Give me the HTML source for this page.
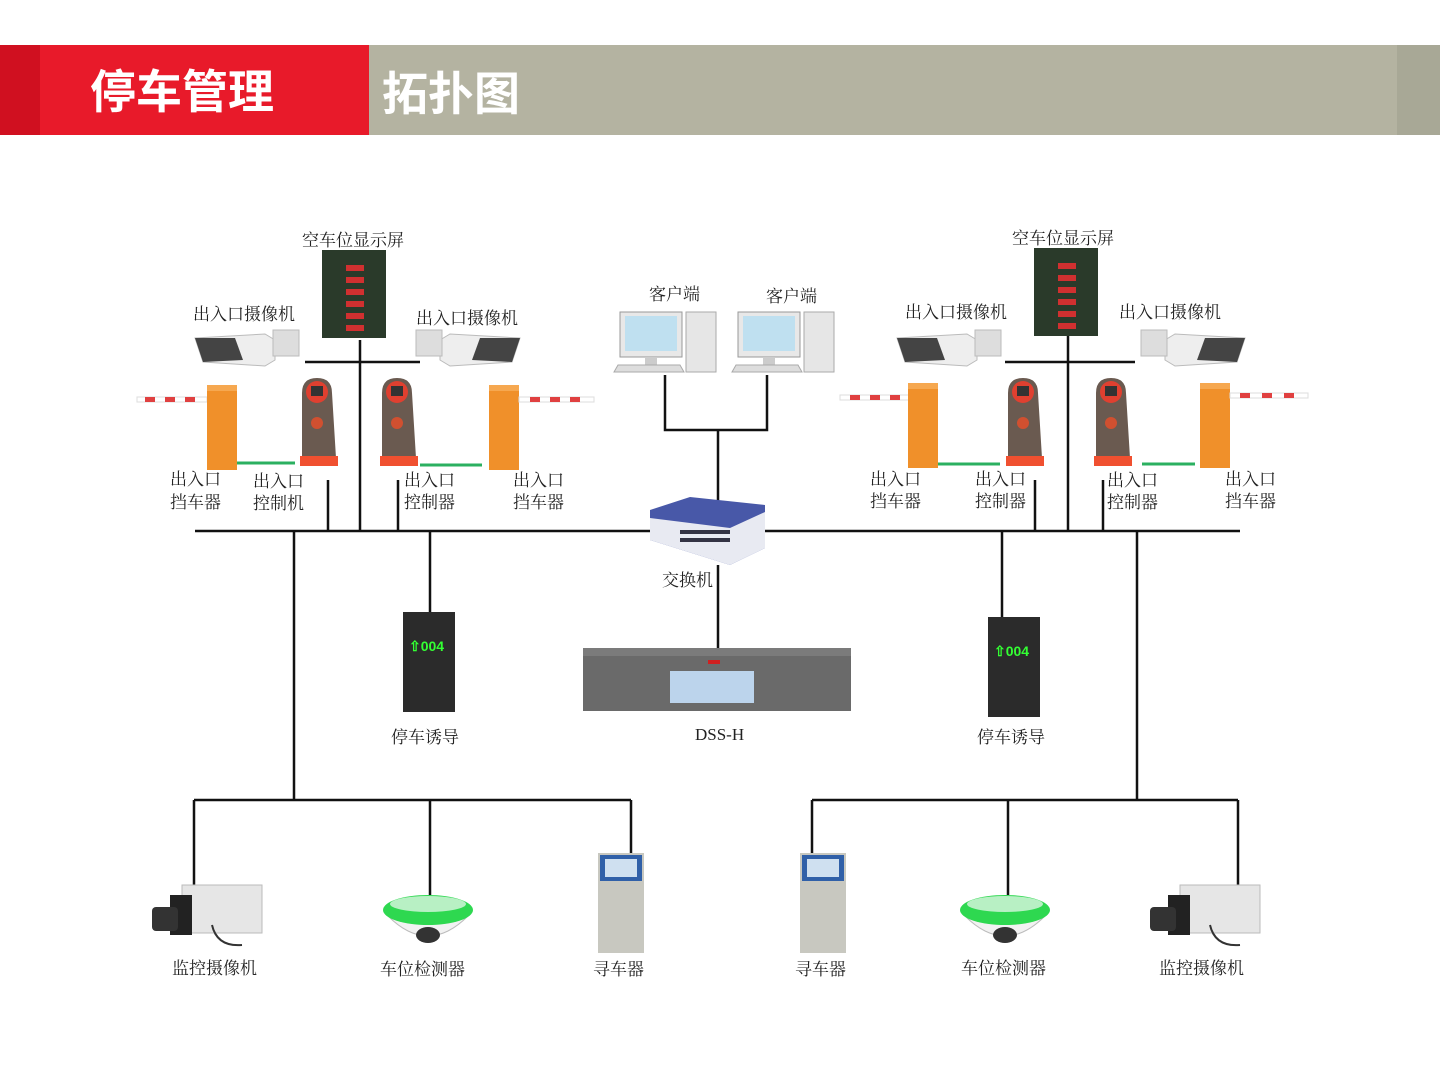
<!DOCTYPE html>
<html><head><meta charset="utf-8"><style>
html,body{margin:0;padding:0;background:#fff;}
svg{display:block;font-family:"Liberation Serif","Noto Serif CJK SC","Noto Sans CJK SC",serif;}
.t{font-size:17px;fill:#222;}
</style></head><body>
<svg width="1440" height="1080" viewBox="0 0 1440 1080" xmlns="http://www.w3.org/2000/svg">
<defs>
<g id="bcam">
<path d="M0,8 L70,4 L80,10 L80,30 L70,36 L8,32 Z" fill="#eee" stroke="#bbb"/>
<path d="M0,8 L40,8 L48,30 L8,32 Z" fill="#444"/>
<rect x="78" y="0" width="26" height="26" fill="#ddd" stroke="#bbb"/>
</g>
<g id="gate">
<rect x="0" y="0" width="30" height="85" fill="#f0902a"/>
<rect x="0" y="0" width="30" height="6" fill="#f6a850"/>
</g>
<g id="ctrl">
<path d="M0,15 Q0,0 15,0 Q30,0 30,15 L34,80 L0,80 Z" fill="#6a5a50"/>
<circle cx="15" cy="14" r="11" fill="#e04030"/>
<rect x="9" y="8" width="12" height="10" fill="#333"/>
<circle cx="15" cy="45" r="6" fill="#d05030"/>
<rect x="-2" y="78" width="38" height="10" fill="#f05030"/>
</g>
<g id="disp">
<rect x="0" y="0" width="64" height="88" fill="#2a3a2a"/>
<g fill="#d03030"><rect x="24" y="15" width="18" height="6"/><rect x="24" y="27" width="18" height="6"/><rect x="24" y="39" width="18" height="6"/><rect x="24" y="51" width="18" height="6"/><rect x="24" y="63" width="18" height="6"/><rect x="24" y="75" width="18" height="6"/></g>
</g>
<g id="pc">
<rect x="0" y="0" width="62" height="45" fill="#e8e8e8" stroke="#999"/>
<rect x="5" y="4" width="52" height="35" fill="#bfe0f0"/>
<rect x="25" y="45" width="12" height="8" fill="#ccc"/>
<path d="M-2,53 L60,53 L64,60 L-6,60 Z" fill="#ddd" stroke="#aaa"/>
<rect x="66" y="0" width="30" height="60" fill="#e6e6e6" stroke="#aaa"/>
</g>
<g id="guide">
<rect x="0" y="0" width="52" height="100" fill="#2b2b2b"/>
<text x="6" y="39" font-size="14" fill="#3f3" font-family="Liberation Sans,sans-serif" font-weight="bold">⇧004</text>
</g>
<g id="kiosk">
<rect x="0" y="0" width="46" height="100" fill="#c8c8c0"/>
<rect x="2" y="2" width="42" height="26" fill="#3060a8"/>
<rect x="7" y="6" width="32" height="18" fill="#cfe0f0"/>
</g>
<g id="det">
<path d="M5,26 Q45,66 85,26 Z" fill="#f2f2f2" stroke="#bbb"/>
<ellipse cx="45" cy="20" rx="45" ry="15" fill="#2ed850"/>
<ellipse cx="45" cy="14" rx="38" ry="8" fill="#b8f0c4"/>
<ellipse cx="45" cy="45" rx="12" ry="8" fill="#333"/>
</g>
<g id="boxcam">
<rect x="30" y="0" width="80" height="48" fill="#e6e6e6" stroke="#bbb"/>
<rect x="18" y="10" width="22" height="40" fill="#222"/>
<rect x="0" y="22" width="26" height="24" rx="4" fill="#333"/>
<path d="M60,40 Q65,62 90,60" fill="none" stroke="#333" stroke-width="2"/>
</g>
</defs>

<rect x="0" y="45" width="369" height="90" fill="#e81a2a"/>
<rect x="0" y="45" width="40" height="90" fill="#d01020"/>
<rect x="369" y="45" width="1028" height="90" fill="#b4b3a1"/>
<rect x="1397" y="45" width="43" height="90" fill="#a8a896"/>
<text x="90" y="108" font-size="46" font-weight="bold" fill="#fff" font-family="Liberation Sans,'Noto Sans CJK SC',sans-serif">停车管理</text>
<text x="382" y="110" font-size="46" font-weight="bold" fill="#fff" font-family="Liberation Sans,'Noto Sans CJK SC',sans-serif">拓扑图</text>

<g stroke="#111" stroke-width="2.5" fill="none">
<path d="M195,531 H650 M765,531 H1240"/>
<path d="M294,531 V800 M430,531 V612 M360,340 V531 M328,480 V531 M398,480 V531 M305,362 H420"/>
<path d="M1068,335 V531 M1005,362 H1135 M1035,480 V531 M1103,480 V531 M1002,531 V617 M1137,531 V800"/>
<path d="M194,800 H631 M194,800 V885 M430,800 V895 M631,800 V855"/>
<path d="M812,800 H1238 M812,800 V855 M1008,800 V895 M1238,800 V885"/>
<path d="M665,375 V430 H767 V375 M718,430 V505 M718,565 V648"/>
</g>
<g stroke="#2bb060" stroke-width="3"><path d="M232,463 H295 M420,465 H482 M935,464 H1000 M1142,464 H1195"/></g>

<use href="#disp" x="322" y="250"/>
<use href="#bcam" x="195" y="330"/>
<use href="#bcam" transform="translate(520,330) scale(-1,1)"/>
<rect x="137" y="397" width="70" height="5" fill="#fff" stroke="#ddd"/><g fill="#e04040"><rect x="145" y="397" width="10" height="5"/><rect x="165" y="397" width="10" height="5"/><rect x="185" y="397" width="10" height="5"/></g>
<use href="#gate" x="207" y="385"/>
<use href="#ctrl" x="302" y="378"/>
<use href="#ctrl" x="382" y="378"/>
<use href="#gate" x="489" y="385"/>
<rect x="519" y="397" width="75" height="5" fill="#fff" stroke="#ddd"/><g fill="#e04040"><rect x="530" y="397" width="10" height="5"/><rect x="550" y="397" width="10" height="5"/><rect x="570" y="397" width="10" height="5"/></g>

<use href="#disp" x="1034" y="248"/>
<use href="#bcam" x="897" y="330"/>
<use href="#bcam" transform="translate(1245,330) scale(-1,1)"/>
<rect x="840" y="395" width="70" height="5" fill="#fff" stroke="#ddd"/><g fill="#e04040"><rect x="850" y="395" width="10" height="5"/><rect x="870" y="395" width="10" height="5"/><rect x="890" y="395" width="10" height="5"/></g>
<use href="#gate" x="908" y="383"/>
<use href="#ctrl" x="1008" y="378"/>
<use href="#ctrl" x="1096" y="378"/>
<use href="#gate" x="1200" y="383"/>
<rect x="1230" y="393" width="78" height="5" fill="#fff" stroke="#ddd"/><g fill="#e04040"><rect x="1240" y="393" width="10" height="5"/><rect x="1262" y="393" width="10" height="5"/><rect x="1284" y="393" width="10" height="5"/></g>

<use href="#pc" x="620" y="312"/>
<use href="#pc" x="738" y="312"/>
<path d="M650,510 L690,497 L765,505 L765,548 L730,565 L650,540 Z" fill="#4858a8"/>
<path d="M650,518 L730,528 L765,512 L765,548 L730,565 L650,540 Z" fill="#e8eaf2"/>
<g fill="#334"><rect x="680" y="530" width="50" height="4"/><rect x="680" y="538" width="50" height="4"/></g>
<rect x="583" y="648" width="268" height="63" fill="#6a6a6a"/>
<rect x="583" y="648" width="268" height="8" fill="#7b7b7b"/>
<rect x="670" y="671" width="84" height="32" fill="#bcd4ec"/>
<rect x="708" y="660" width="12" height="4" fill="#d02020"/>

<use href="#guide" x="403" y="612"/>
<use href="#guide" x="988" y="617"/>

<use href="#boxcam" x="152" y="885"/>
<use href="#det" x="383" y="890"/>
<use href="#kiosk" x="598" y="853"/>
<use href="#kiosk" x="800" y="853"/>
<use href="#det" x="960" y="890"/>
<use href="#boxcam" x="1150" y="885"/>

<g class="t">
<text x="302" y="246">空车位显示屏</text>
<text x="193" y="320">出入口摄像机</text>
<text x="416" y="324">出入口摄像机</text>
<text x="170" y="485">出入口</text><text x="170" y="508">挡车器</text>
<text x="253" y="487">出入口</text><text x="253" y="509">控制机</text>
<text x="404" y="486">出入口</text><text x="404" y="508">控制器</text>
<text x="513" y="486">出入口</text><text x="513" y="508">挡车器</text>
<text x="649" y="300">客户端</text>
<text x="766" y="302">客户端</text>
<text x="1012" y="244">空车位显示屏</text>
<text x="905" y="318">出入口摄像机</text>
<text x="1119" y="318">出入口摄像机</text>
<text x="870" y="485">出入口</text><text x="870" y="507">挡车器</text>
<text x="975" y="485">出入口</text><text x="975" y="507">控制器</text>
<text x="1107" y="486">出入口</text><text x="1107" y="508">控制器</text>
<text x="1225" y="485">出入口</text><text x="1225" y="507">挡车器</text>
<text x="662" y="586">交换机</text>
<text x="695" y="740">DSS-H</text>
<text x="391" y="743">停车诱导</text>
<text x="977" y="743">停车诱导</text>
<text x="172" y="974">监控摄像机</text>
<text x="380" y="975">车位检测器</text>
<text x="593" y="975">寻车器</text>
<text x="795" y="975">寻车器</text>
<text x="961" y="974">车位检测器</text>
<text x="1159" y="974">监控摄像机</text>
</g>
</svg>
</body></html>
